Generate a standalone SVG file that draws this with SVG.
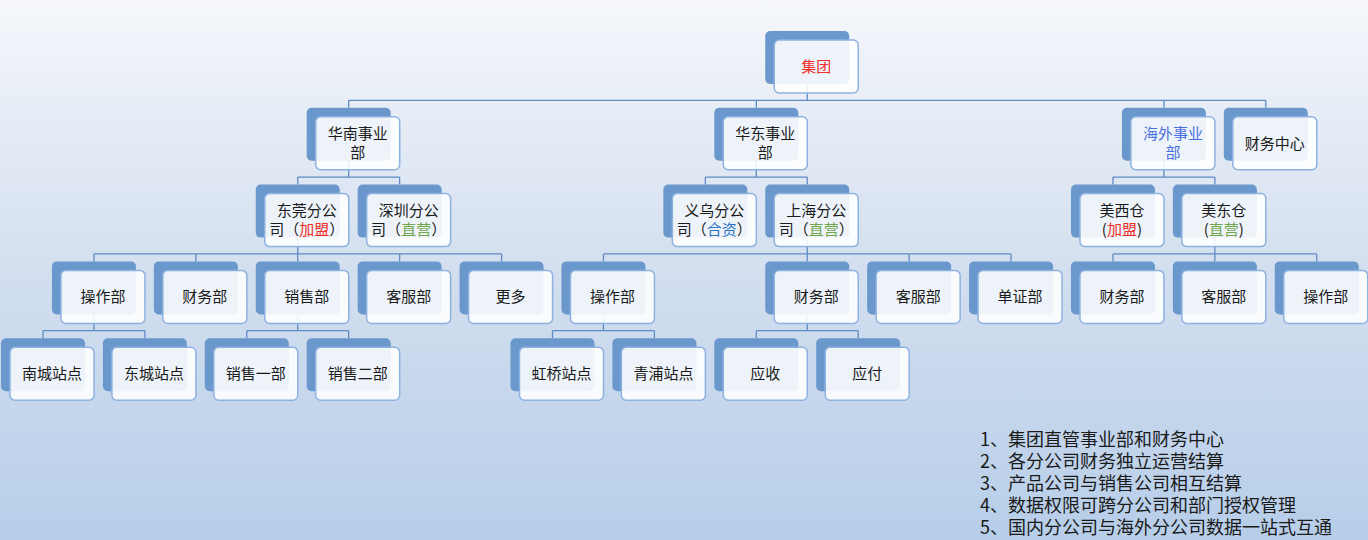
<svg xmlns="http://www.w3.org/2000/svg" width="1368" height="540" viewBox="0 0 1368 540">
<defs>
<linearGradient id="bg" x1="0" y1="0" x2="0" y2="1">
<stop offset="0" stop-color="#f5f7fb"/>
<stop offset="0.5" stop-color="#d3dfef"/>
<stop offset="1" stop-color="#b7cee9"/>
</linearGradient>
<style>
.bk{fill:#6a98cc}
.fr{fill:#ffffff;fill-opacity:0.88;stroke:#8db2e0;stroke-width:1.5}
.t{font-family:"Noto Sans CJK SC","Liberation Sans",sans-serif;font-size:15px;fill:#1a1a1a;text-anchor:middle}
.n{font-family:"Noto Sans CJK SC","Liberation Sans",sans-serif;font-size:18px;fill:#1a1a1a}
.red{fill:#f0302a}
.grn{fill:#72a64e}
.blu{fill:#2f74c6}
.pur{fill:#4a6fe0}
.ln{fill:none;stroke:#5f8cc4;stroke-width:1.3}
</style>
</defs>
<rect width="1368" height="540" fill="url(#bg)"/>
<g id="connectors" class="ln">
<path d="M807.25 84V100.3M348.7 100.3H1265.8M348.7 100.3V107.8M756.3 100.3V107.8M1163.9 100.3V107.8M1265.8 100.3V107.8"/>
<path d="M348.7 160.8V177.1M297.75 177.1H399.65M297.75 177.1V184.6M399.65 177.1V184.6"/>
<path d="M756.3 160.8V177.1M705.35 177.1H807.25M705.35 177.1V184.6M807.25 177.1V184.6"/>
<path d="M1163.9 160.8V177.1M1112.95 177.1H1214.85M1112.95 177.1V184.6M1214.85 177.1V184.6"/>
<path d="M297.75 237.6V253.9M93.95 253.9H501.55M93.95 253.9V261.4M195.85 253.9V261.4M297.75 253.9V261.4M399.65 253.9V261.4M501.55 253.9V261.4"/>
<path d="M807.25 237.6V253.9M603.45 253.9H1011.05M603.45 253.9V261.4M807.25 253.9V261.4M909.15 253.9V261.4M1011.05 253.9V261.4"/>
<path d="M1214.85 237.6V253.9M1112.95 253.9H1316.75M1112.95 253.9V261.4M1214.85 253.9V261.4M1316.75 253.9V261.4"/>
<path d="M93.95 314.4V330.7M43 330.7H144.9M43 330.7V338.2M144.9 330.7V338.2"/>
<path d="M297.75 314.4V330.7M246.8 330.7H348.7M246.8 330.7V338.2M348.7 330.7V338.2"/>
<path d="M603.45 314.4V330.7M552.5 330.7H654.4M552.5 330.7V338.2M654.4 330.7V338.2"/>
<path d="M807.25 314.4V330.7M756.3 330.7H858.2M756.3 330.7V338.2M858.2 330.7V338.2"/>
</g>
<g id="n-jituan" transform="translate(765.25,31)"><rect class="bk" width="84" height="53" rx="5"/><rect class="fr" x="9" y="9" width="84" height="53" rx="5"/><text class="t red" x="51" y="41">集团</text></g>
<g id="n-huanan" transform="translate(306.7,107.8)"><rect class="bk" width="84" height="53" rx="5"/><rect class="fr" x="9" y="9" width="84" height="53" rx="5"/><text class="t" x="51" y="31.5">华南事业</text><text class="t" x="51" y="50.5">部</text></g>
<g id="n-huadong" transform="translate(714.3,107.8)"><rect class="bk" width="84" height="53" rx="5"/><rect class="fr" x="9" y="9" width="84" height="53" rx="5"/><text class="t" x="51" y="31.5">华东事业</text><text class="t" x="51" y="50.5">部</text></g>
<g id="n-haiwai" transform="translate(1121.9,107.8)"><rect class="bk" width="84" height="53" rx="5"/><rect class="fr" x="9" y="9" width="84" height="53" rx="5"/><text class="t pur" x="51" y="31.5">海外事业</text><text class="t pur" x="51" y="50.5">部</text></g>
<g id="n-caiwuzhongxin" transform="translate(1223.8,107.8)"><rect class="bk" width="84" height="53" rx="5"/><rect class="fr" x="9" y="9" width="84" height="53" rx="5"/><text class="t" x="51" y="41">财务中心</text></g>
<g id="n-dongguan" transform="translate(255.75,184.6)"><rect class="bk" width="84" height="53" rx="5"/><rect class="fr" x="9" y="9" width="84" height="53" rx="5"/><text class="t" x="51" y="31.5">东莞分公</text><text class="t" x="51" y="50.5">司（<tspan class="red">加盟</tspan>）</text></g>
<g id="n-shenzhen" transform="translate(357.65,184.6)"><rect class="bk" width="84" height="53" rx="5"/><rect class="fr" x="9" y="9" width="84" height="53" rx="5"/><text class="t" x="51" y="31.5">深圳分公</text><text class="t" x="51" y="50.5">司（<tspan class="grn">直营</tspan>）</text></g>
<g id="n-yiwu" transform="translate(663.35,184.6)"><rect class="bk" width="84" height="53" rx="5"/><rect class="fr" x="9" y="9" width="84" height="53" rx="5"/><text class="t" x="51" y="31.5">义乌分公</text><text class="t" x="51" y="50.5">司（<tspan class="blu">合资</tspan>）</text></g>
<g id="n-shanghai" transform="translate(765.25,184.6)"><rect class="bk" width="84" height="53" rx="5"/><rect class="fr" x="9" y="9" width="84" height="53" rx="5"/><text class="t" x="51" y="31.5">上海分公</text><text class="t" x="51" y="50.5">司（<tspan class="grn">直营</tspan>）</text></g>
<g id="n-meixi" transform="translate(1070.95,184.6)"><rect class="bk" width="84" height="53" rx="5"/><rect class="fr" x="9" y="9" width="84" height="53" rx="5"/><text class="t" x="51" y="31.5">美西仓</text><text class="t" x="51" y="50.5">(<tspan class="red">加盟</tspan>)</text></g>
<g id="n-meidong" transform="translate(1172.85,184.6)"><rect class="bk" width="84" height="53" rx="5"/><rect class="fr" x="9" y="9" width="84" height="53" rx="5"/><text class="t" x="51" y="31.5">美东仓</text><text class="t" x="51" y="50.5">(<tspan class="grn">直营</tspan>)</text></g>
<g id="n-dg-caozuo" transform="translate(51.95,261.4)"><rect class="bk" width="84" height="53" rx="5"/><rect class="fr" x="9" y="9" width="84" height="53" rx="5"/><text class="t" x="51" y="41">操作部</text></g>
<g id="n-dg-caiwu" transform="translate(153.85,261.4)"><rect class="bk" width="84" height="53" rx="5"/><rect class="fr" x="9" y="9" width="84" height="53" rx="5"/><text class="t" x="51" y="41">财务部</text></g>
<g id="n-dg-xiaoshou" transform="translate(255.75,261.4)"><rect class="bk" width="84" height="53" rx="5"/><rect class="fr" x="9" y="9" width="84" height="53" rx="5"/><text class="t" x="51" y="41">销售部</text></g>
<g id="n-dg-kefu" transform="translate(357.65,261.4)"><rect class="bk" width="84" height="53" rx="5"/><rect class="fr" x="9" y="9" width="84" height="53" rx="5"/><text class="t" x="51" y="41">客服部</text></g>
<g id="n-dg-gengduo" transform="translate(459.55,261.4)"><rect class="bk" width="84" height="53" rx="5"/><rect class="fr" x="9" y="9" width="84" height="53" rx="5"/><text class="t" x="51" y="41">更多</text></g>
<g id="n-sh-caozuo" transform="translate(561.45,261.4)"><rect class="bk" width="84" height="53" rx="5"/><rect class="fr" x="9" y="9" width="84" height="53" rx="5"/><text class="t" x="51" y="41">操作部</text></g>
<g id="n-sh-caiwu" transform="translate(765.25,261.4)"><rect class="bk" width="84" height="53" rx="5"/><rect class="fr" x="9" y="9" width="84" height="53" rx="5"/><text class="t" x="51" y="41">财务部</text></g>
<g id="n-sh-kefu" transform="translate(867.15,261.4)"><rect class="bk" width="84" height="53" rx="5"/><rect class="fr" x="9" y="9" width="84" height="53" rx="5"/><text class="t" x="51" y="41">客服部</text></g>
<g id="n-sh-danzheng" transform="translate(969.05,261.4)"><rect class="bk" width="84" height="53" rx="5"/><rect class="fr" x="9" y="9" width="84" height="53" rx="5"/><text class="t" x="51" y="41">单证部</text></g>
<g id="n-md-caiwu" transform="translate(1070.95,261.4)"><rect class="bk" width="84" height="53" rx="5"/><rect class="fr" x="9" y="9" width="84" height="53" rx="5"/><text class="t" x="51" y="41">财务部</text></g>
<g id="n-md-kefu" transform="translate(1172.85,261.4)"><rect class="bk" width="84" height="53" rx="5"/><rect class="fr" x="9" y="9" width="84" height="53" rx="5"/><text class="t" x="51" y="41">客服部</text></g>
<g id="n-md-caozuo" transform="translate(1274.75,261.4)"><rect class="bk" width="84" height="53" rx="5"/><rect class="fr" x="9" y="9" width="84" height="53" rx="5"/><text class="t" x="51" y="41">操作部</text></g>
<g id="n-nancheng" transform="translate(1,338.2)"><rect class="bk" width="84" height="53" rx="5"/><rect class="fr" x="9" y="9" width="84" height="53" rx="5"/><text class="t" x="51" y="41">南城站点</text></g>
<g id="n-dongcheng" transform="translate(102.9,338.2)"><rect class="bk" width="84" height="53" rx="5"/><rect class="fr" x="9" y="9" width="84" height="53" rx="5"/><text class="t" x="51" y="41">东城站点</text></g>
<g id="n-xiaoshou1" transform="translate(204.8,338.2)"><rect class="bk" width="84" height="53" rx="5"/><rect class="fr" x="9" y="9" width="84" height="53" rx="5"/><text class="t" x="51" y="41">销售一部</text></g>
<g id="n-xiaoshou2" transform="translate(306.7,338.2)"><rect class="bk" width="84" height="53" rx="5"/><rect class="fr" x="9" y="9" width="84" height="53" rx="5"/><text class="t" x="51" y="41">销售二部</text></g>
<g id="n-hongqiao" transform="translate(510.5,338.2)"><rect class="bk" width="84" height="53" rx="5"/><rect class="fr" x="9" y="9" width="84" height="53" rx="5"/><text class="t" x="51" y="41">虹桥站点</text></g>
<g id="n-qingpu" transform="translate(612.4,338.2)"><rect class="bk" width="84" height="53" rx="5"/><rect class="fr" x="9" y="9" width="84" height="53" rx="5"/><text class="t" x="51" y="41">青浦站点</text></g>
<g id="n-yingshou" transform="translate(714.3,338.2)"><rect class="bk" width="84" height="53" rx="5"/><rect class="fr" x="9" y="9" width="84" height="53" rx="5"/><text class="t" x="51" y="41">应收</text></g>
<g id="n-yingfu" transform="translate(816.2,338.2)"><rect class="bk" width="84" height="53" rx="5"/><rect class="fr" x="9" y="9" width="84" height="53" rx="5"/><text class="t" x="51" y="41">应付</text></g>
<g id="notes">
<text class="n" x="980" y="446">1、集团直管事业部和财务中心</text>
<text class="n" x="980" y="468">2、各分公司财务独立运营结算</text>
<text class="n" x="980" y="490">3、产品公司与销售公司相互结算</text>
<text class="n" x="980" y="512">4、数据权限可跨分公司和部门授权管理</text>
<text class="n" x="980" y="534">5、国内分公司与海外分公司数据一站式互通</text>
</g>
</svg>
